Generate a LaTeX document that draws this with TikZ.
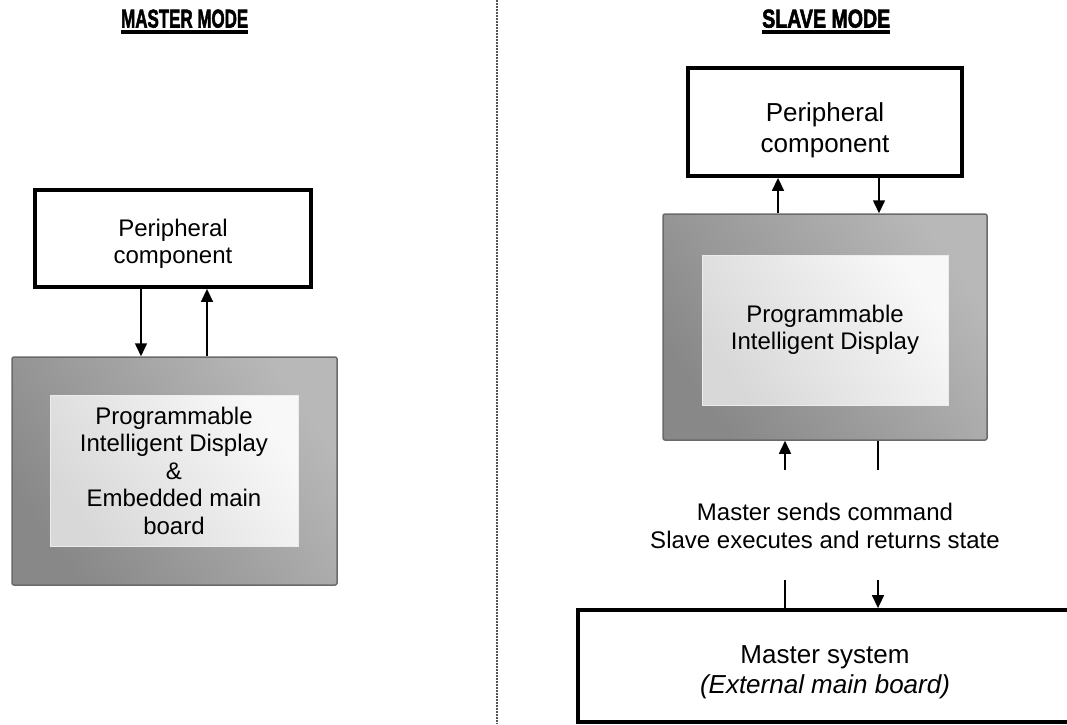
\documentclass[tikz,border=0pt]{standalone}
\usepackage{fontspec}
\usepackage{graphicx}
\setmainfont{Liberation Sans}
\newfontfamily\headfont{Liberation Sans Bold}[FakeBold=2.5]
\usetikzlibrary{arrows.meta}
\definecolor{outerD}{HTML}{888888}
\definecolor{outerL}{HTML}{B8B8B8}
\definecolor{innerD}{HTML}{D8D8D8}
\definecolor{innerL}{HTML}{F8F8F8}
\definecolor{frameC}{HTML}{6A6A6A}
\definecolor{dashC}{HTML}{555555}
\tikzset{
  plainbox/.style={draw=black, line width=3.8pt, fill=white, inner sep=0pt},
  boxtext/.style={inner sep=0pt, align=center},
  outerbox/.style={draw=frameC, line width=1.5pt, rounded corners=2pt, bottom color=outerD, top color=outerL, shading angle=-55, inner sep=0pt},
  innerbox/.style={draw=white!85!gray, line width=1pt, bottom color=innerD, top color=innerL, shading angle=-55, inner sep=0pt, align=center},
  arr/.style={line width=1.5pt, -{Triangle[width=12pt,length=13pt]}},
  ln/.style={line width=1.5pt},
  header/.style={inner sep=0pt, anchor=south west},
  uline/.style={line width=4pt},
  sep/.style={line width=1.4pt, dashC, dash pattern=on 2pt off 1pt}
}
\begin{document}
\begin{tikzpicture}[x=1pt, y=-1pt]
\clip (0,0) rectangle (1067,724);
\fill[white] (0,0) rectangle (1067,724);

% separator
\coordinate (st) at (497,0);
\coordinate (sb) at (497,724);
\draw[sep] (st) -- (sb);

% headers
\node[header] (hm) at (121,28) {\resizebox{127pt}{18pt}{\headfont MASTER MODE}};
\draw[uline] ([yshift=-3.5pt]hm.south west) -- ([yshift=-3.5pt]hm.south east);
\node[header] (hs) at (762,28) {\resizebox{128pt}{18pt}{\headfont SLAVE MODE}};
\draw[uline] ([yshift=-3.5pt]hs.south west) -- ([yshift=-3.5pt]hs.south east);

% ---------------- master mode ----------------
\node[plainbox, minimum width=276pt, minimum height=97pt] (pL) at (173,238.5) {};
\node[boxtext, font=\fontsize{24}{27}\selectfont] (pLt) at (173,244) {Peripheral\\component};
\node[outerbox, minimum width=325pt, minimum height=228pt] (gL) at (174.5,471) {};
\node[innerbox, minimum width=248pt, minimum height=151pt,
      font=\fontsize{24}{27.5}\selectfont] (iL) at (174,470.5)
      {Programmable\\Intelligent Display\\\&\\Embedded main\\board};
\coordinate (xa) at (141,0);
\coordinate (xb) at (207,0);
\draw[arr] (pL.south -| xa) -- (gL.north -| xa);
\draw[arr] (gL.north -| xb) -- (pL.south -| xb);

% ---------------- slave mode ----------------
\node[plainbox, minimum width=274pt, minimum height=108pt] (pR) at (825,122) {};
\node[boxtext, font=\fontsize{26}{31}\selectfont] (pRt) at (825,130) {Peripheral\\component};
\node[outerbox, minimum width=324pt, minimum height=226pt] (gR) at (825,327) {};
\node[innerbox, minimum width=246pt, minimum height=150pt,
      font=\fontsize{24}{27.5}\selectfont] (iR) at (825,330)
      {Programmable\\Intelligent Display};
\coordinate (xc) at (778,0);
\coordinate (xd) at (879,0);
\draw[arr] (gR.north -| xc) -- (pR.south -| xc);
\draw[arr] (pR.south -| xd) -- (gR.north -| xd);

\coordinate (c1) at (785,470);
\coordinate (c2) at (878,470);
\draw[arr] (c1) -- (gR.south -| c1);
\draw[ln] (gR.south -| c2) -- (c2);

\node[inner sep=0pt, align=center, font=\fontsize{24}{28}\selectfont] (msg) at (825,526)
  {Master sends command\\Slave executes and returns state};

\node[plainbox, minimum width=494pt, minimum height=112pt] (mR) at (825,666) {};
\node[boxtext, font=\fontsize{26}{30}\selectfont] (mRt) at (825,672)
      {Master system\\\textit{(External main board)}};
\coordinate (c3) at (785,580);
\coordinate (c4) at (878,580);
\draw[ln] (c3) -- (mR.north -| c3);
\draw[arr] (c4) -- (mR.north -| c4);
\end{tikzpicture}
\end{document}
